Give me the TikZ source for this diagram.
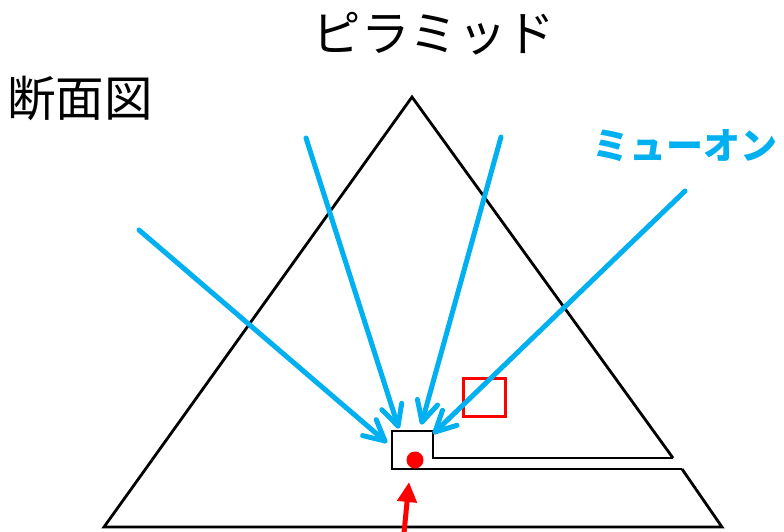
\documentclass[tikz,border=0pt]{standalone}
\usepackage{fontspec}
\newfontfamily\cjk{Noto Sans CJK JP}
\usetikzlibrary{arrows.meta,calc}
\definecolor{muon}{HTML}{00B0F0}
\definecolor{redc}{HTML}{FF0000}
\tikzset{
  wall/.style={line width=2.8pt, line join=miter},
  ray/.style={draw=muon, line width=5pt, line cap=round, line join=round},
  lbl/.style={inner sep=0pt, font=\cjk\fontsize{48.5}{50}\selectfont}
}
\begin{document}
\begin{tikzpicture}[x=1pt,y=-1pt]
\useasboundingbox (0,0) rectangle (784,531);
% pyramid outline
\coordinate (apex) at (412,97);
\coordinate (bl) at (104,527);
\coordinate (br) at (722,527);
\coordinate (cu) at (673,458);
\coordinate (cl) at (682,469);
\draw[wall] (cu) -- (apex) -- (bl) -- (br) -- (cl);
% chamber and corridor
\draw[wall] (cu) -- (433,458) -- (433,431) -- (392,431) -- (392,469) -- (cl);
% red square and detector dot
\node[draw=redc, line width=2.5pt, minimum width=42pt, minimum height=38pt, inner sep=0pt] (sq) at (484.5,397.5) {};
\fill[redc] (415,460) circle (8.5pt);
% red arrow
\coordinate (rs) at (404,533);
\coordinate (rt) at (409,482);
\draw[redc, line width=5pt, -{Triangle[length=20pt,width=19pt]}] (rs) -- (rt);
% muon rays
\coordinate (m1s) at (139,230); \coordinate (m1t) at (385,441);
\coordinate (m2s) at (306,138); \coordinate (m2t) at (398,426);
\coordinate (m3s) at (501,137); \coordinate (m3t) at (422,422);
\coordinate (m4s) at (685,191); \coordinate (m4t) at (435,432);
\foreach \i in {1,2,3,4}{
  \draw[ray] (m\i s) -- (m\i t);
  \draw[ray] ($(m\i t)!23pt!27:(m\i s)$) -- (m\i t) -- ($(m\i t)!23pt!-27:(m\i s)$);
}
% labels
\node[lbl] (title) at (434,34) {ピラミッド};
\node[lbl] (sec) at (80,98) {断面図};
\node[inner sep=0pt, text=muon, font=\cjk\bfseries\fontsize{37}{40}\selectfont] (mu) at (685,146) {ミューオン};
\end{tikzpicture}
\end{document}
